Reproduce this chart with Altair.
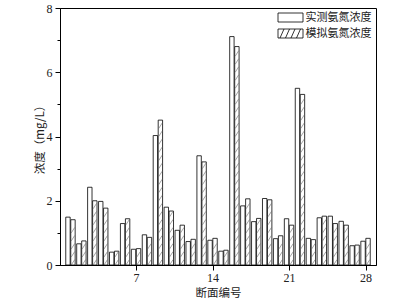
import altair as alt
import numpy as np
import pandas as pd

sections = list(range(1, 29))
measured = [1.49, 0.66, 2.42, 1.98, 0.40, 1.29, 0.49, 0.94, 4.03, 1.80, 1.08, 0.73, 3.40, 0.77,
            0.43, 7.11, 1.84, 1.35, 2.07, 0.82, 1.44, 5.50, 0.83, 1.47, 1.52, 1.36, 0.60, 0.74]
simulated = [1.41, 0.75, 2.00, 1.77, 0.43, 1.44, 0.51, 0.86, 4.51, 1.68, 1.24, 0.80, 3.21, 0.83,
             0.46, 6.80, 2.06, 1.45, 2.03, 0.91, 1.24, 5.31, 0.79, 1.52, 1.29, 1.24, 0.62, 0.83]
series_names = ["实测氨氮浓度", "模拟氨氮浓度"]
x_ticks = [7, 14, 21, 28]
y_ticks = [0, 1, 2, 3, 4, 5, 6, 7, 8]

df_m = pd.DataFrame({"section": sections, "value": measured})
df_s = pd.DataFrame({"section": sections, "value": simulated})

# hatch decoration for simulated bars
STEP, RISE = 0.25, 0.17
rows = []
for s, v in zip(sections, simulated):
    for y0 in np.arange(0.0, max(v - RISE, 0.0), STEP):
        rows.append({"section": s, "value": float(y0), "value2": float(y0 + RISE)})
df_h = pd.DataFrame(rows)

df_leg = pd.DataFrame({"section": [1, 1], "value": [0, 0], "series": series_names})

xaxis = alt.Axis(values=x_ticks, title="断面编号", tickSize=5, labelPadding=2,
                 titlePadding=4, grid=False)
yaxis = alt.Axis(values=y_ticks, title="浓度（mg/L）", grid=False,
                 tickSize={"condition": {"test": "datum.value % 2 === 0", "value": 5}, "value": 3},
                 labelExpr="datum.value % 2 === 0 ? datum.label : ''",
                 labelPadding=3, titlePadding=1)
xs = alt.Scale(domain=[0.5, 28.5], nice=False, zero=False)
ys = alt.Scale(domain=[0, 8], nice=False)

X = alt.X("section:Q", scale=xs, axis=xaxis)
Y = alt.Y("value:Q", scale=ys, axis=yaxis)

bars_m = alt.Chart(df_m).mark_bar(width=4.4, xOffset=-2.5, fill="white", stroke="black",
                                  strokeWidth=0.8).encode(x=X, y=Y)
bars_s = alt.Chart(df_s).mark_bar(width=4.4, xOffset=2.5, fill="white", stroke="black",
                                  strokeWidth=0.8).encode(x=X, y=Y)
hatch = alt.Chart(df_h).mark_rule(xOffset=0.8, x2Offset=4.3, color="#666",
                                  strokeWidth=0.6).encode(
    x=X, x2="section:Q", y=Y, y2="value2:Q")

rect_path = "M-2.5,-0.9H2.5V0.9H-2.5Z"
hatch_path = ("M-2.5,-0.9H2.5V0.9H-2.5Z M-2.1,0.9L-1.3,-0.9 M-1.0,0.9L-0.2,-0.9 "
              "M0.1,0.9L0.9,-0.9 M1.2,0.9L2.0,-0.9")
leg = alt.Chart(df_leg).mark_point(opacity=0, color="black", filled=False).encode(
    x=X, y=Y,
    shape=alt.Shape("series:N", scale=alt.Scale(domain=series_names, range=[rect_path, hatch_path]),
                    legend=alt.Legend(orient="top-right", title=None, offset=4, padding=0,
                                      symbolSize=100, symbolOpacity=1, symbolStrokeWidth=0.8,
                                      symbolStrokeColor="black", symbolFillColor="white",
                                      labelFont="Noto Sans CJK SC", labelFontSize=11,
                                      labelColor="#222", labelOffset=9.5, rowPadding=3)))

chart = alt.layer(bars_m, bars_s, hatch, leg).properties(
    width=316, height=257,
    autosize=alt.AutoSizeParams(type="none"),
    padding={"left": 60, "top": 8, "right": 22, "bottom": 36},
).configure_view(stroke="black", strokeWidth=1).configure_axis(
    labelFont="Liberation Serif", labelFontSize=12, labelColor="#222",
    titleFont="Noto Sans CJK SC", titleFontSize=11.5, titleFontWeight="normal",
    titleColor="#222", domainColor="black", tickColor="black", domainWidth=1, tickWidth=1
)

chart.save("out.html", embed_options={"renderer": "svg", "actions": False})
